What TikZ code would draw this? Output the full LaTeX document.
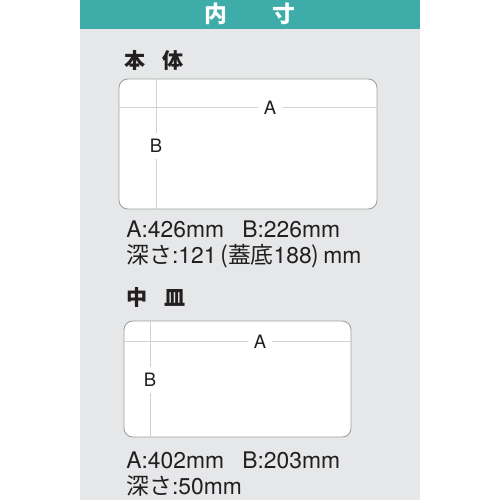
\documentclass[tikz,border=0pt]{standalone}
\usepackage{fontspec}
\setmainfont{TeX Gyre Heros}
\newfontfamily\jp{Noto Sans CJK JP}
\definecolor{midori}{HTML}{3EADA9}
\definecolor{haiiro}{HTML}{E6E7E8}
\definecolor{sumi}{HTML}{231F20}

\begin{document}
\begin{tikzpicture}[x=0.02cm,y=-0.02cm,line cap=round]
	\tikzstyle{hako}=[draw=gray!75,fill=white,line width=0.5pt,rounded corners=5pt];
	\tikzstyle{sunpo}=[draw=gray!35,line width=0.4pt];
	\tikzstyle{kigo}=[fill=white,inner sep=3.5pt,text=sumi,font=\fontsize{10.5}{12}\selectfont];
	\tikzstyle{midashi}=[inner sep=0pt,anchor=west,text=sumi,font=\fontsize{12}{14}\selectfont\jp\bfseries];
	\tikzstyle{setsumei}=[inner sep=0pt,anchor=base west,text=sumi,font=\fontsize{13}{15}\selectfont];

	\useasboundingbox (0,0) rectangle (500,500);
	\fill[white]  (0,0)  rectangle (500,500);
	\fill[haiiro] (80,0) rectangle (420,500);
	\fill[midori] (80,0) rectangle (420,29);
	\node[text=white,font=\fontsize{13}{14}\selectfont\jp\bfseries] (title) at (250,14) {内\hspace{2em}寸};

	% hontai
	\node[midashi] (hontai) at (124,60) {本\hspace{0.8em}体};
	\draw[hako]  (119,79)  rectangle (377,209);
	\draw[sunpo] (119,107) -- (377,107);
	\draw[sunpo] (156,79)  -- (156,209);
	\node[kigo] (hA) at (270,108) {A};
	\node[kigo] (hB) at (156,146) {B};
	\node[setsumei] (hsun1) at (126,237) {A:426mm\hspace{0.8em}B:226mm};
	\node[setsumei] (hsun2) at (126,263) {{\jp 深さ}:121\,{\jp (蓋底}188{\jp )}\,mm};

	% nakazara
	\node[midashi] (naka) at (126,297) {中\hspace{0.8em}皿};
	\draw[hako]  (124,321) rectangle (351,437);
	\draw[sunpo] (124,341) -- (351,341);
	\draw[sunpo] (150,321) -- (150,437);
	\node[kigo] (nA) at (260,342) {A};
	\node[kigo] (nB) at (150,380) {B};
	\node[setsumei] (nsun1) at (126,468) {A:402mm\hspace{0.8em}B:203mm};
	\node[setsumei] (nsun2) at (126,494) {{\jp 深さ}:50mm};
\end{tikzpicture}
\end{document}
